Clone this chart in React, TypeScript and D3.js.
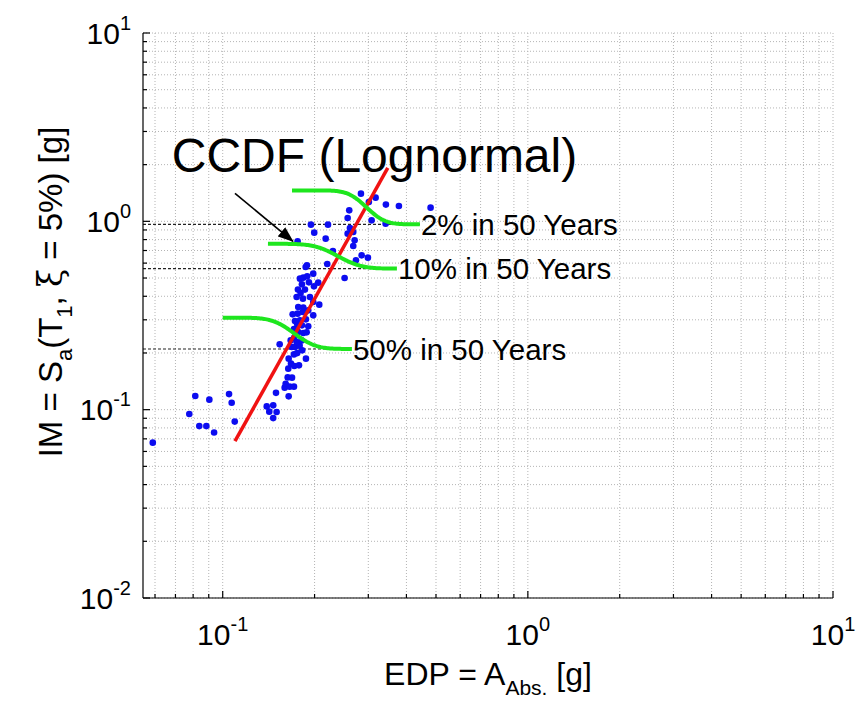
import React from 'react';
import * as d3 from 'd3';

// Scatter data: EDP (x, g) and IM (y, g)
const edpValues = [
  0.0590, 0.0777, 0.0813, 0.0838, 0.0884, 0.0904, 0.0937, 0.1049, 0.1070, 0.1095,
  0.1394, 0.1464, 0.1421, 0.1502, 0.1464, 0.1495, 0.1645, 0.1596, 0.1608, 0.1657,
  0.1712, 0.1687, 0.1633, 0.1640, 0.1674, 0.1716, 0.1778, 0.1645, 0.1712, 0.1755,
  0.1874, 0.1822, 0.1683, 0.1725, 0.1787, 0.1537, 0.1670, 0.1716, 0.1747, 0.1814,
  0.1768, 0.1837, 0.1884, 0.1712, 0.1755, 0.1791, 0.1725, 0.1695, 0.1760, 0.1828,
  0.1768, 0.1837, 0.1907, 0.1980, 0.1874, 0.1818, 0.1907, 0.2072, 0.1980, 0.1931,
  0.1832, 0.1747, 0.1800, 0.1860, 0.1764, 0.1818, 0.1917, 0.1991, 0.1837,
  0.1892, 0.1791, 0.2056, 0.1870, 0.1888, 0.2201, 0.2509, 0.2733, 0.2853, 0.2991,
  0.2297, 0.2838, 0.3170, 0.3013, 0.3426, 0.3779, 0.4800, 0.2598, 0.2567, 0.3076,
  0.3419, 0.1946, 0.2213, 0.2612, 0.1995, 0.2567, 0.2678, 0.2175, 0.2706, 0.2678,
  0.1760, 0.1980,
];
const imValues = [
  0.0668, 0.0948, 0.1181, 0.0818, 0.0818, 0.1130, 0.0757, 0.1210, 0.1089, 0.0864,
  0.1041, 0.1054, 0.0976, 0.0971, 0.0902, 0.1228, 0.1177, 0.1309, 0.1374, 0.1325,
  0.1325, 0.1479, 0.1484, 0.1651, 0.1755, 0.1704, 0.1719, 0.1866, 0.1966, 0.1997,
  0.1866, 0.2065, 0.2150, 0.2150, 0.2187, 0.2222, 0.2333, 0.2412, 0.2286, 0.2333,
  0.2583, 0.2551, 0.2573, 0.2679, 0.2838, 0.2980, 0.2954, 0.3207, 0.3235, 0.3299,
  0.3506, 0.3481, 0.3368, 0.3168, 0.3017, 0.2804, 0.2769, 0.3611, 0.3727, 0.3963,
  0.3886, 0.3963, 0.4161, 0.4339, 0.4339, 0.4628, 0.4742, 0.4517, 0.5023,
  0.5104, 0.4962, 0.4724, 0.5719, 0.5839, 0.5933, 0.4999, 0.6209, 0.6598, 0.6415,
  0.6954, 1.403, 1.336, 1.266, 1.227, 1.206, 1.182, 1.144, 1.041, 1.012,
  0.972, 0.960, 0.960, 0.921, 0.871, 0.860, 0.877, 0.809, 0.793, 0.739,
  0.783, 0.5275,
];

// Regression line (red)
const fitEdp = [0.1097, 0.3475];
const fitIm = [0.068, 1.92];

// Hazard levels and lognormal CCDF curves (green)
const hazardLabels = ['2% in 50 Years', '10% in 50 Years', '50% in 50 Years'];
const hazardIm = [0.964, 0.561, 0.21];
const ccdfTopIm = [1.46, 0.76, 0.308];
const ccdfMedianEdp = [0.296, 0.2386, 0.1714];
const ccdfBeta = [0.11, 0.14, 0.13];
const ccdfStartEdp = [0.1687, 0.1407, 0.1];
const ccdfEndEdp = [0.4428, 0.3723, 0.2651];

// Annotation
const annotationText = 'CCDF (Lognormal)';
const annotationPos = [0.0681, 1.827];
const arrowFrom = [0.1097, 1.408];
const arrowTo = [0.1699, 0.783];

// Axes
const xDomain = [0.0548, 10];
const yDomain = [0.01, 10];
const xMajorTicks = [0.1, 1, 10];
const xMajorExp = ['-1', '0', '1'];
const yMajorTicks = [0.01, 0.1, 1, 10];
const yMajorExp = ['-2', '-1', '0', '1'];

function erf(v: number) {
  const s = Math.sign(v);
  const a = Math.abs(v);
  const t = 1 / (1 + 0.3275911 * a);
  const y = 1 - (((((1.061405429 * t - 1.453152027) * t) + 1.421413741) * t - 0.284496736) * t + 0.254829592) * t * Math.exp(-a * a);
  return s * y;
}
const Phi = (z: number) => 0.5 * (1 + erf(z / Math.SQRT2));

function minorTicks(lo: number, hi: number) {
  const out: number[] = [];
  for (let e = -3; e <= 2; e++) {
    for (let k = 1; k <= 9; k++) {
      const v = k * Math.pow(10, e);
      if (v >= lo * 0.9999 && v <= hi * 1.0001) out.push(+v.toPrecision(6));
    }
  }
  return out;
}

export default function App() {
  const W = 864, H = 702;
  const L = 143, R = 833, T = 33, B = 598;
  const x = d3.scaleLog().domain(xDomain).range([L, R]);
  const y = d3.scaleLog().domain(yDomain).range([B, T]);
  const xTicks = minorTicks(xDomain[0], xDomain[1]);
  const yTicks = minorTicks(yDomain[0], yDomain[1]);
  const font = 'Arial, "Liberation Sans", Helvetica, sans-serif';

  const line = d3.line<[number, number]>().x(d => x(d[0])).y(d => y(d[1]));

  const curves = hazardIm.map((lvl, i) => {
    const n = 100;
    const pts: [number, number][] = [];
    const a = Math.log(ccdfStartEdp[i]);
    const b = Math.log(ccdfEndEdp[i]);
    for (let k = 0; k <= n; k++) {
      const e = Math.exp(a + (b - a) * k / n);
      const q = 1 - Phi((Math.log(e) - Math.log(ccdfMedianEdp[i])) / ccdfBeta[i]);
      pts.push([e, lvl * Math.pow(ccdfTopIm[i] / lvl, q)]);
    }
    return pts;
  });

  const isMajor = (v: number) => Math.abs(Math.log10(v) - Math.round(Math.log10(v))) < 1e-6;

  return (
    <svg width={W} height={H} style={{ position: 'absolute', left: 0, top: 0, background: '#fff' }} fontFamily={font}>
      <style>{`body{margin:0}`}</style>
      <defs>
        <marker id="ah" markerUnits="userSpaceOnUse" markerWidth="16" markerHeight="12" refX="15" refY="6" orient="auto">
          <path d="M0,0 L16,6 L0,12 Z" fill="#000" />
        </marker>
      </defs>
      <rect x={0} y={0} width={W} height={H} fill="#fff" />
      {/* grid */}
      <g stroke="#b4b4b4" strokeWidth={1} strokeDasharray="1,2">
        {xTicks.map((t, i) => (
          <line key={'gx' + i} x1={x(t)} x2={x(t)} y1={T} y2={B} />
        ))}
        {yTicks.map((t, i) => (
          <line key={'gy' + i} x1={L} x2={R} y1={y(t)} y2={y(t)} />
        ))}
      </g>
      {/* hazard dashed lines */}
      <g stroke="#222" strokeWidth={1.2} strokeDasharray="3,2">
        {hazardIm.map((v, i) => (
          <line key={'hz' + i} x1={x(xDomain[0])} x2={x(ccdfEndEdp[i])} y1={y(v)} y2={y(v)} />
        ))}
      </g>
      {/* scatter */}
      <g fill="#0c0cf0">
        {edpValues.map((e, i) => (
          <circle key={'p' + i} cx={x(e)} cy={y(imValues[i])} r={3.3} />
        ))}
      </g>
      {/* regression line */}
      <path d={line([[fitEdp[0], fitIm[0]], [fitEdp[1], fitIm[1]]]) || ''} stroke="#f01212" strokeWidth={3.5} fill="none" />
      {/* CCDF curves */}
      {curves.map((c, i) => (
        <path key={'c' + i} d={line(c) || ''} stroke="#1ee61e" strokeWidth={4} fill="none" />
      ))}
      {/* hazard labels */}
      {hazardLabels.map((s, i) => (
        <text key={'hl' + i} x={x(ccdfEndEdp[i]) + 1} y={y(hazardIm[i])} dy="0.36em" fontSize={29.5} fill="#000">{s}</text>
      ))}
      {/* annotation */}
      <text x={x(annotationPos[0])} y={y(annotationPos[1])} fontSize={48} fill="#000">{annotationText}</text>
      <line x1={x(arrowFrom[0])} y1={y(arrowFrom[1])} x2={x(arrowTo[0])} y2={y(arrowTo[1])} stroke="#000" strokeWidth={1.6} markerEnd="url(#ah)" />
      {/* axes */}
      <g stroke="#000" strokeWidth={1.2}>
        <line x1={L} x2={L} y1={T} y2={B} />
        <line x1={L} x2={R} y1={B} y2={B} />
        {xTicks.map((t, i) => (
          <line key={'tx' + i} x1={x(t)} x2={x(t)} y1={B} y2={B - (isMajor(t) ? 7 : 4)} />
        ))}
        {yTicks.map((t, i) => (
          <line key={'ty' + i} x1={L} x2={L + (isMajor(t) ? 7 : 4)} y1={y(t)} y2={y(t)} />
        ))}
      </g>
      {/* tick labels */}
      {xMajorTicks.map((t, i) => (
        <text key={'xl' + i} x={x(t)} y={645} fontSize={30} textAnchor="middle" fill="#000">
          10<tspan dy={-14} fontSize={20}>{xMajorExp[i]}</tspan>
        </text>
      ))}
      {yMajorTicks.map((t, i) => (
        <text key={'yl' + i} x={131} y={y(t) + 10.5} fontSize={30} textAnchor="end" fill="#000">
          10<tspan dy={-14} fontSize={20}>{yMajorExp[i]}</tspan>
        </text>
      ))}
      {/* axis titles */}
      <text x={(L + R) / 2} y={685} fontSize={32} textAnchor="middle" fill="#000">
        EDP = A<tspan dy={10} fontSize={21}>Abs.</tspan><tspan dy={-10}> [g]</tspan>
      </text>
      <text transform={`translate(62, 292) rotate(-90)`} fontSize={33} textAnchor="middle" fill="#000">
        IM = S<tspan dy={10} fontSize={22}>a</tspan><tspan dy={-10}>(T</tspan><tspan dy={10} fontSize={22}>1</tspan><tspan dy={-10}>, </tspan><tspan fontFamily="'DejaVu Serif', serif">ξ</tspan><tspan> = 5%) [g]</tspan>
      </text>
    </svg>
  );
}
